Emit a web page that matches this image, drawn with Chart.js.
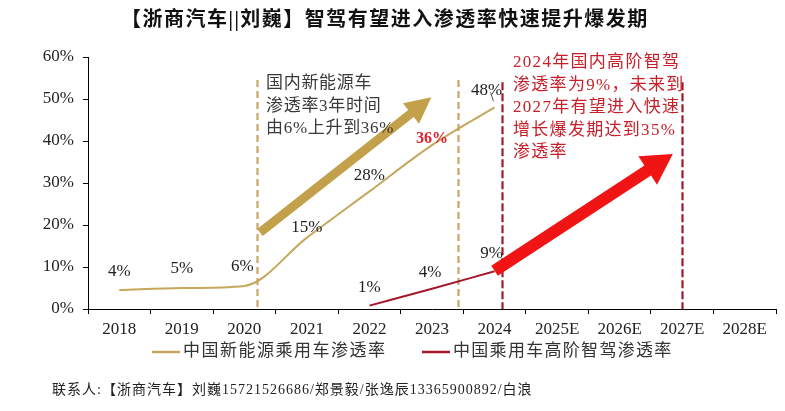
<!DOCTYPE html>
<html>
<head>
<meta charset="utf-8">
<script src="https://cdn.jsdelivr.net/npm/chart.js@4/dist/chart.umd.min.js"></script>
<style>
html, body { margin: 0; padding: 0; background: #fff; }
canvas { display: block; }
</style>
</head>
<body>
<canvas id="chart" width="785" height="411"></canvas>
<script>
// data (percent)
const years = ['2018', '2019', '2020', '2021', '2022', '2023', '2024', '2025E', '2026E', '2027E', '2028E'];
const nevRate = [4.5, 5, 5.5, 17, 28, 39, 48, null, null, null, null];
const adasRate = [null, null, null, null, 0.8, 4.8, 9, null, null, null, null];
const nevLabels = ['4%', '5%', '6%', '15%', '28%', '36%', '48%', null, null, null, null];
const adasLabels = [null, null, null, null, '1%', '4%', '9%', null, null, null, null];
const yTicks = [0, 10, 20, 30, 40, 50, 60];

const seriesNames = ['中国新能源乘用车渗透率', '中国乘用车高阶智驾渗透率'];
const titleText = '【浙商汽车||刘巍】智驾有望进入渗透率快速提升爆发期';
const footerText = '联系人:【浙商汽车】刘巍15721526686/郑景毅/张逸辰13365900892/白浪';
const nevNote = ['国内新能源车', '渗透率3年时间', '由6%上升到36%'];
const adasNote = ['2024年国内高阶智驾', '渗透率为9%，未来到', '2027年有望进入快速', '增长爆发期达到35%', '渗透率'];

const GOLD = '#C6A75C';
const DARKRED = '#A3182A';
const SERIF = '"Liberation Serif", "Noto Sans CJK SC", serif';

// label nudges relative to the point (px)
const nevNudge = [[0, -19], [0, -19], [-2, -19], [0, -10], [0, -16], [0, -6], [-8, -17]];
const adasNudge = [[0, 0], [0, 0], [0, 0], [0, 0], [0, -18], [-2, -16], [-3, -18]];

function drawArrow(ctx, x1, y1, x2, y2, shaft, headLen, headHalf, color) {
    const a = Math.atan2(y2 - y1, x2 - x1);
    const len = Math.hypot(x2 - x1, y2 - y1);
    ctx.save();
    ctx.translate(x1, y1);
    ctx.rotate(a);
    ctx.beginPath();
    ctx.moveTo(0, -shaft / 2);
    ctx.lineTo(len - headLen, -shaft / 2);
    ctx.lineTo(len - headLen, -headHalf);
    ctx.lineTo(len, 0);
    ctx.lineTo(len - headLen, headHalf);
    ctx.lineTo(len - headLen, shaft / 2);
    ctx.lineTo(0, shaft / 2);
    ctx.closePath();
    ctx.fillStyle = color;
    ctx.fill();
    ctx.restore();
}

function vDash(ctx, xs, ys, idx, top, color, dash) {
    ctx.save();
    ctx.strokeStyle = color;
    ctx.lineWidth = 2.2;
    ctx.setLineDash(dash);
    const x = Math.round(xs.getPixelForValue(idx)) + 0.5;
    ctx.beginPath();
    ctx.moveTo(x, ys.getPixelForValue(top));
    ctx.lineTo(x, ys.getPixelForValue(0));
    ctx.stroke();
    ctx.restore();
}

function textLine(ctx, str, x, y, font, color, spacing, align) {
    ctx.save();
    ctx.font = font;
    ctx.fillStyle = color;
    ctx.letterSpacing = spacing || '0px';
    ctx.textAlign = align || 'left';
    ctx.textBaseline = 'middle';
    ctx.fillText(str, x, y);
    ctx.restore();
}

const extras = {
    id: 'extras',
    beforeDatasetsDraw(chart) {
        const ctx = chart.ctx;
        const xs = chart.scales.x, ys = chart.scales.y;
        vDash(ctx, xs, ys, 2.21, 54.5, '#C9A66A', [7, 4]);
        vDash(ctx, xs, ys, 5.42, 54.5, '#C9A66A', [7, 4]);
        vDash(ctx, xs, ys, 6.12, 54, DARKRED, [8, 3]);
        vDash(ctx, xs, ys, 8.99, 54, DARKRED, [8, 3]);
    },
    afterDatasetsDraw(chart) {
        const ctx = chart.ctx;
        const xs = chart.scales.x, ys = chart.scales.y;

        drawArrow(ctx, xs.getPixelForValue(2.25), ys.getPixelForValue(18.2),
            xs.getPixelForValue(4.99), ys.getPixelForValue(50.4), 9, 26, 13, '#C3A14A');
        drawArrow(ctx, xs.getPixelForValue(6.0), ys.getPixelForValue(9.1),
            xs.getPixelForValue(8.85), ys.getPixelForValue(36.9), 12, 30, 17, '#F01414');

        // data labels
        nevLabels.forEach((t, i) => {
            if (!t) return;
            const p = chart.getDatasetMeta(0).data[i];
            const red = i === 5;
            textLine(ctx, t, p.x + nevNudge[i][0], p.y + nevNudge[i][1],
                red ? 'bold 16px ' + SERIF : '17px ' + SERIF, red ? '#E0202A' : '#222', '0px', 'center');
        });
        adasLabels.forEach((t, i) => {
            if (!t) return;
            const p = chart.getDatasetMeta(1).data[i];
            textLine(ctx, t, p.x + adasNudge[i][0], p.y + adasNudge[i][1], '17px ' + SERIF, '#222', '0px', 'center');
        });
        // small leader on the 48% label
        const p48 = chart.getDatasetMeta(0).data[6];
        ctx.save();
        ctx.strokeStyle = '#555';
        ctx.lineWidth = 1;
        ctx.beginPath();
        ctx.moveTo(p48.x - 4, p48.y - 15);
        ctx.lineTo(p48.x - 1, p48.y - 6);
        ctx.stroke();
        ctx.restore();

        // notes
        nevNote.forEach((s, i) => textLine(ctx, s, 266, 84 + i * 22.5, '17px ' + SERIF, '#3a3a3a', '0.7px'));
        adasNote.forEach((s, i) => textLine(ctx, s, 513, 63 + i * 22.5, '17px ' + SERIF, '#C8202A', '1.3px'));
    },
    afterDraw(chart) {
        const ctx = chart.ctx;
        textLine(ctx, titleText, 121, 21, 'bold 20px ' + SERIF, '#111', '1.5px');

        // legend
        ctx.save();
        ctx.lineWidth = 2.5;
        ctx.strokeStyle = GOLD;
        ctx.beginPath(); ctx.moveTo(152, 352); ctx.lineTo(180, 352); ctx.stroke();
        ctx.strokeStyle = DARKRED;
        ctx.beginPath(); ctx.moveTo(422, 352); ctx.lineTo(450, 352); ctx.stroke();
        ctx.restore();
        textLine(ctx, seriesNames[0], 183, 352, '17px ' + SERIF, '#333', '1.5px');
        textLine(ctx, seriesNames[1], 453, 352, '17px ' + SERIF, '#333', '1.3px');

        textLine(ctx, footerText, 52, 390, '14px ' + SERIF, '#222', '1px');
    }
};

new Chart(document.getElementById('chart'), {
    type: 'line',
    data: {
        labels: years,
        datasets: [{
            label: seriesNames[0],
            data: nevRate,
            borderColor: GOLD,
            borderWidth: 2,
            pointRadius: 0,
            tension: 0.4,
            cubicInterpolationMode: 'monotone'
        }, {
            label: seriesNames[1],
            data: adasRate,
            borderColor: DARKRED,
            borderWidth: 2,
            pointRadius: 0,
            cubicInterpolationMode: 'monotone'
        }]
    },
    options: {
        responsive: false,
        animation: false,
        layout: { padding: { left: 0, right: 9, top: 57, bottom: 72 } },
        plugins: {
            legend: { display: false },
            title: { display: false },
            tooltip: { enabled: false }
        },
        scales: {
            x: {
                offset: true,
                grid: { offset: true, drawOnChartArea: false, drawTicks: true, tickLength: 5, color: '#000' },
                border: { color: '#000', width: 1 },
                ticks: { color: '#222', font: { family: SERIF, size: 17 }, padding: 5, maxRotation: 0, autoSkip: false },
                afterFit(scale) { scale.height = 30; }
            },
            y: {
                min: 0,
                max: 60,
                afterBuildTicks(scale) { scale.ticks = yTicks.map(v => ({ value: v })); },
                grid: { drawOnChartArea: false, drawTicks: true, tickLength: 5, color: '#000' },
                border: { color: '#000', width: 1 },
                ticks: { color: '#222', font: { family: SERIF, size: 17 }, padding: 9, callback: v => v + '%' },
                afterFit(scale) { scale.width = 88; }
            }
        }
    },
    plugins: [extras]
});
</script>
</body>
</html>
